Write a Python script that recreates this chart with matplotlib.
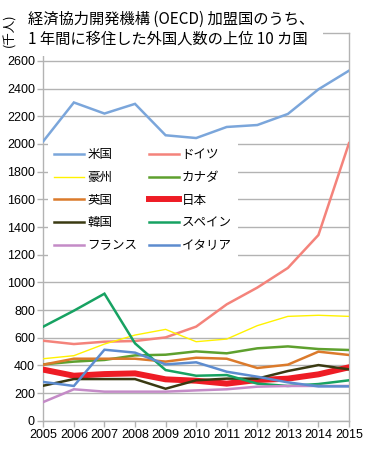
import matplotlib
matplotlib.use("Agg")
import matplotlib.pyplot as plt

plt.rcParams['font.family'] = ['Liberation Sans', 'Noto Sans CJK JP', 'DejaVu Sans']

years = [2005, 2006, 2007, 2008, 2009, 2010, 2011, 2012, 2013, 2014, 2015]
usa = [2020, 2300, 2220, 2290, 2063, 2043, 2123, 2137, 2217, 2395, 2530]
germany = [578, 554, 571, 576, 602, 680, 841, 962, 1104, 1342, 2006]
australia = [448, 470, 554, 619, 660, 571, 590, 687, 754, 762, 754]
canada = [407, 427, 439, 472, 477, 501, 487, 523, 537, 518, 511]
uk = [405, 448, 448, 448, 427, 455, 448, 381, 405, 499, 475]
japan = [369, 325, 337, 342, 299, 289, 268, 294, 304, 335, 386]
korea = [253, 301, 301, 301, 231, 292, 304, 304, 359, 402, 371]
spain = [680, 795, 918, 559, 366, 325, 330, 268, 251, 265, 292]
france = [135, 227, 210, 210, 210, 219, 227, 246, 251, 251, 251]
italy = [280, 251, 513, 492, 407, 422, 354, 318, 277, 248, 248]

names = ['米国', 'ドイツ', '豪州', 'カナダ', '英国', '日本', '韓国', 'スペイン', 'フランス', 'イタリア']
series = [usa, germany, australia, canada, uk, japan, korea, spain, france, italy]
colors = ['#7BA6DB', '#F4837B', '#FFF200', '#5EA02E', '#DB7A2B', '#EE1C25',
          '#3A3A12', '#17A262', '#C48BC7', '#5D8CCF']
widths = [1.8, 1.8, 1.0, 1.8, 1.8, 4.3, 1.8, 1.8, 1.8, 1.8]

title_lines = ['経済協力開発機構 (OECD) 加盟国のうち、', '1 年間に移住した外国人数の上位 10 カ国']
ylabel = '(千人)'

W, H = 378, 454
fig = plt.figure(figsize=(W / 100, H / 100), dpi=100)
ax = fig.add_axes([43.3 / W, 1 - 420.7 / H, (349 - 43.3) / W, (420.7 - 33.3) / H])

handles = {}
for name, vals, c, lw in zip(names, series, colors, widths):
    ln, = ax.plot(years, vals, color=c, lw=lw, solid_joinstyle='miter', zorder=3)
    handles[name] = ln

ax.set_xlim(2005, 2015)
ax.set_ylim(0, 2800)
ax.set_xticks(years)
ax.set_xticklabels([str(y) for y in years])
ax.set_yticks(range(0, 2601, 200))
ax.grid(axis='y', color='#B3B3B3', lw=1.0)
ax.set_axisbelow(True)
for s in ax.spines.values():
    s.set_color('#B3B3B3')
    s.set_linewidth(1.0)
ax.tick_params(axis='both', colors='#B3B3B3', length=4, width=1.0, labelsize=9,
               labelcolor='black', pad=2)

order = ['米国', '豪州', '英国', '韓国', 'フランス', 'ドイツ', 'カナダ', '日本', 'スペイン', 'イタリア']
leg = ax.legend([handles[n] for n in order], order, ncol=2, loc='upper left',
                bbox_to_anchor=(0.015, 0.719), frameon=True, fancybox=False,
                edgecolor='none', facecolor='white', framealpha=1.0,
                prop={'family': ['Noto Sans CJK JP', 'DejaVu Sans'], 'size': 9},
                handlelength=2.4, handletextpad=0.25, columnspacing=0.9,
                labelspacing=0.77, borderpad=0.5, borderaxespad=0)
leg.set_zorder(5)

fig.text(28 / W, 1 - 29 / H, title_lines[0] + '\n' + title_lines[1], ha='left', va='center',
         fontsize=11, family=['Noto Sans CJK JP', 'DejaVu Sans'], linespacing=1.2,
         bbox=dict(facecolor='white', edgecolor='none', pad=6), zorder=10)
fig.text(10 / W, 1 - 30 / H, ylabel, rotation=90, ha='center', va='center', fontsize=9,
         family=['Noto Sans CJK JP', 'DejaVu Sans'], zorder=11)

fig.savefig('out.png', dpi=100)
